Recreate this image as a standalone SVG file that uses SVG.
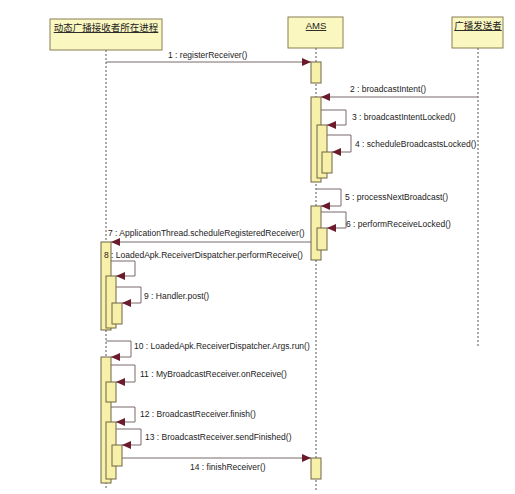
<svg xmlns="http://www.w3.org/2000/svg" width="515" height="494" viewBox="0 0 515 494">
<defs>
<style>
.hdr{fill:#fbf7c0;stroke:#8a7f55;stroke-width:1}
.act{fill:#f7f0a8;stroke:#6f6545;stroke-width:1}
.life{stroke:#555;stroke-width:1;stroke-dasharray:2,2;fill:none}
.msg{stroke:#7a6a6a;stroke-width:1;fill:none}
.lbl{font-family:"Liberation Sans","DejaVu Sans",sans-serif;font-size:8.5px;fill:#222}
.htxt{font-family:"Liberation Sans","Noto Sans CJK SC",sans-serif;font-size:9.5px;fill:#222;text-decoration:underline}
</style>
<marker id="ah" markerWidth="10" markerHeight="8" refX="9" refY="4" orient="auto" markerUnits="userSpaceOnUse">
<path d="M0,0 L9,4 L0,8 Z" fill="#6b1b2b"/>
</marker>
</defs>
<rect width="515" height="494" fill="#fff"/>
<g id="lifelines">
<line class="life" x1="106" y1="50" x2="106" y2="490"/>
<line class="life" x1="316" y1="48" x2="316" y2="490"/>
<line class="life" x1="478" y1="48" x2="478" y2="347"/>
</g>
<g id="receiver">
<rect class="hdr" x="50" y="19" width="112" height="31"/>
<text class="htxt" x="106" y="31" text-anchor="middle">动态广播接收者所在进程</text>
</g>
<g id="ams">
<rect class="hdr" x="288" y="17" width="55" height="31"/>
<text class="htxt" x="316" y="29" text-anchor="middle">AMS</text>
</g>
<g id="sender">
<rect class="hdr" x="452" y="17" width="51" height="31"/>
<text class="htxt" x="478" y="29" text-anchor="middle">广播发送者</text>
</g>
<g id="activations">
<rect class="act" x="311" y="62" width="10" height="21"/>
<rect class="act" x="311" y="97" width="10" height="85"/>
<rect class="act" x="317" y="125" width="10" height="53"/>
<rect class="act" x="322" y="152" width="10" height="21"/>
<rect class="act" x="311" y="206" width="10" height="54"/>
<rect class="act" x="317" y="228" width="10" height="22"/>
<rect class="act" x="311" y="458" width="10" height="21"/>
<rect class="act" x="101" y="242" width="10" height="88"/>
<rect class="act" x="106" y="276" width="10" height="52"/>
<rect class="act" x="112" y="303" width="10" height="21"/>
<rect class="act" x="101" y="357" width="10" height="126"/>
<rect class="act" x="106" y="382" width="10" height="20"/>
<rect class="act" x="106" y="422" width="10" height="57"/>
<rect class="act" x="112" y="445" width="10" height="21"/>
</g>
<g id="connectors">
<line class="msg" x1="106" y1="62" x2="311" y2="62" marker-end="url(#ah)"/>
<line class="msg" x1="478" y1="97" x2="321" y2="97" marker-end="url(#ah)"/>
<polyline class="msg" points="321,110 346,110 346,125 327,125" marker-end="url(#ah)"/>
<polyline class="msg" points="327,135 351,135 351,152 332,152" marker-end="url(#ah)"/>
<polyline class="msg" points="316,189 341,189 341,206 321,206" marker-end="url(#ah)"/>
<polyline class="msg" points="321,212 346,212 346,228 327,228" marker-end="url(#ah)"/>
<line class="msg" x1="311" y1="242" x2="111" y2="242" marker-end="url(#ah)"/>
<polyline class="msg" points="111,261 135,261 135,276 116,276" marker-end="url(#ah)"/>
<polyline class="msg" points="116,287 141,287 141,303 122,303" marker-end="url(#ah)"/>
<polyline class="msg" points="106,341 131,341 131,357 111,357" marker-end="url(#ah)"/>
<polyline class="msg" points="111,365 135,365 135,382 116,382" marker-end="url(#ah)"/>
<polyline class="msg" points="111,407 135,407 135,422 116,422" marker-end="url(#ah)"/>
<polyline class="msg" points="116,429 141,429 141,445 122,445" marker-end="url(#ah)"/>
<line class="msg" x1="122" y1="458" x2="311" y2="458" marker-end="url(#ah)"/>
</g>
<g id="labels">
<text class="lbl" x="168" y="58">1 : registerReceiver()</text>
<text class="lbl" x="350" y="92">2 : broadcastIntent()</text>
<text class="lbl" x="352" y="120">3 : broadcastIntentLocked()</text>
<text class="lbl" x="355" y="147">4 : scheduleBroadcastsLocked()</text>
<text class="lbl" x="345" y="200">5 : processNextBroadcast()</text>
<text class="lbl" x="346" y="227">6 : performReceiveLocked()</text>
<text class="lbl" x="108" y="236">7 : ApplicationThread.scheduleRegisteredReceiver()</text>
<text class="lbl" x="104" y="258">8 : LoadedApk.ReceiverDispatcher.performReceive()</text>
<text class="lbl" x="144" y="299">9 : Handler.post()</text>
<text class="lbl" x="134" y="349">10 : LoadedApk.ReceiverDispatcher.Args.run()</text>
<text class="lbl" x="140" y="377">11 : MyBroadcastReceiver.onReceive()</text>
<text class="lbl" x="140" y="417">12 : BroadcastReceiver.finish()</text>
<text class="lbl" x="145" y="440">13 : BroadcastReceiver.sendFinished()</text>
<text class="lbl" x="190" y="470">14 : finishReceiver()</text>
</g>
</svg>
